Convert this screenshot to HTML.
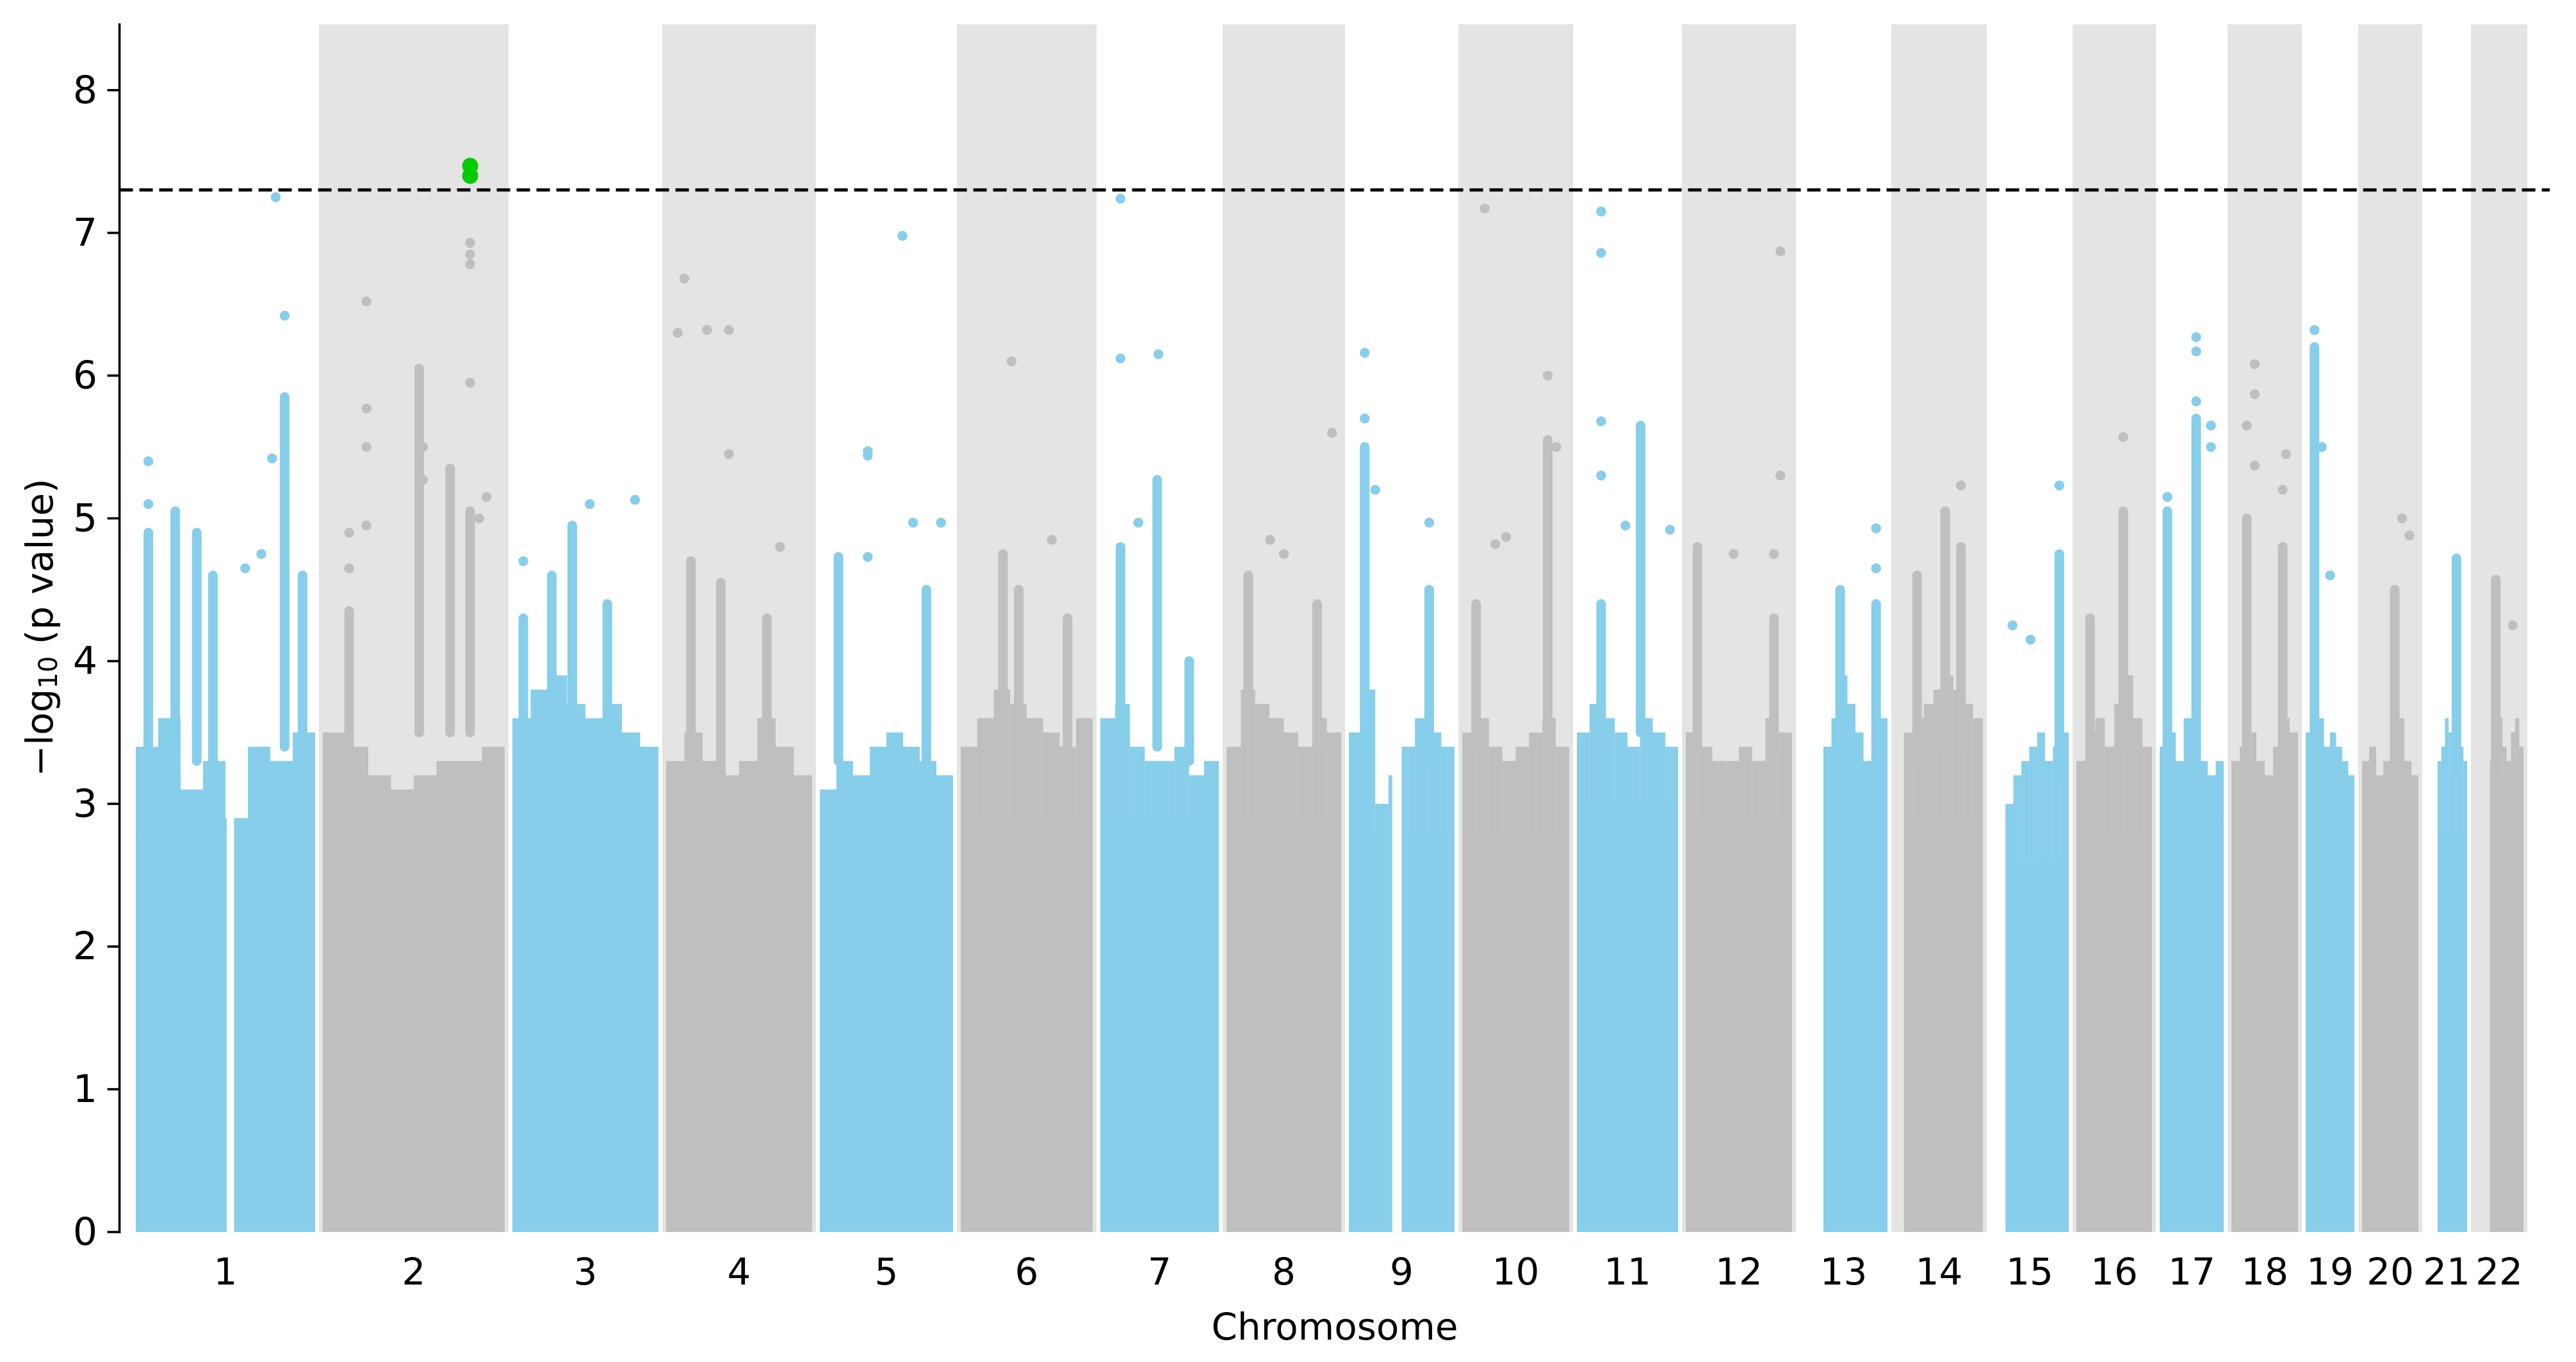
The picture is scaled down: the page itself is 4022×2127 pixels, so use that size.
<!DOCTYPE html>
<html><head><meta charset="utf-8"><style>
html,body{margin:0;padding:0;background:#fff;}
svg{display:block;font-family:"DejaVu Sans","Liberation Sans",sans-serif;}
</style></head>
<body>
<svg id="chart" width="4022" height="2127" viewBox="0 0 4022 2127" xmlns="http://www.w3.org/2000/svg">
<rect x="0" y="0" width="4022" height="2127" fill="#fff"/>
<g id="bands"></g>
<g id="marks"></g>
<g id="axes"></g>
</svg>
<script>
// ---- data ----
const chromosomes = ["1","2","3","4","5","6","7","8","9","10","11","12","13","14","15","16","17","18","19","20","21","22"];
const chromLengths = [292,296,240,240,220,218,197,191,177,179,170,178,149,149,134,130,112,116,88,100,76,88];
const chromStart = [0,0,0,0,0,0,0,0,0,0,0,0,0.27,0.1,0.19,0,0,0,0,0,0.28,0.31];
const denseTop = [2.8,2.9,3.0,2.75,2.8,2.9,2.9,2.9,2.8,2.8,3.0,2.9,2.8,2.9,2.6,2.8,2.9,2.8,3.0,2.7,2.8,2.7];
const fringe = [
 [3.4,3.6,3.1,3.3,2.9,3.4,3.3,3.5],
 [3.5,3.4,3.2,3.1,3.2,3.3,3.3,3.4],
 [3.6,3.8,3.9,3.7,3.6,3.7,3.5,3.4],
 [3.3,3.5,3.3,3.2,3.3,3.6,3.4,3.2],
 [3.1,3.3,3.2,3.4,3.5,3.4,3.3,3.2],
 [3.4,3.6,3.8,3.7,3.6,3.5,3.4,3.6],
 [3.6,3.7,3.4,3.3,3.3,3.4,3.2,3.3],
 [3.4,3.8,3.7,3.6,3.5,3.4,3.6,3.5],
 [3.5,3.8,3.0,3.2,3.4,3.6,3.5,3.4],
 [3.5,3.6,3.4,3.3,3.4,3.5,3.6,3.4],
 [3.5,3.7,3.6,3.5,3.4,3.6,3.5,3.4],
 [3.5,3.4,3.3,3.3,3.4,3.3,3.6,3.5],
 [3.4,3.6,3.9,3.7,3.5,3.3,3.5,3.6],
 [3.5,3.6,3.7,3.8,3.9,3.8,3.7,3.6],
 [3.0,3.2,3.3,3.4,3.5,3.3,3.4,3.5],
 [3.3,3.5,3.6,3.4,3.7,3.9,3.6,3.4],
 [3.4,3.5,3.3,3.6,3.4,3.3,3.2,3.3],
 [3.3,3.4,3.5,3.3,3.2,3.4,3.6,3.5],
 [3.5,3.8,3.6,3.4,3.5,3.4,3.3,3.2],
 [3.3,3.4,3.2,3.3,3.5,3.6,3.3,3.2],
 [3.3,3.4,3.6,3.5,3.3,3.2,3.4,3.3],
 [3.3,3.5,3.6,3.4,3.3,3.5,3.6,3.4]
];
const gaps = [[0,0.507,0.548],[8,0.41,0.5]];
const columns = [
 [0,0.07,3.2,4.9],[0,0.22,3.3,5.05],[0,0.34,3.3,4.9],[0,0.43,3.3,4.6],[0,0.83,3.4,5.85],[0,0.93,3.3,4.6],
 [1,0.145,3.3,4.35],[1,0.53,3.5,6.05],[1,0.70,3.5,5.35],[1,0.81,3.5,5.05],
 [2,0.075,3.5,4.3],[2,0.41,3.6,4.95],[2,0.27,3.5,4.6],[2,0.65,3.4,4.4],
 [3,0.17,3.2,4.7],[3,0.375,3.2,4.55],[3,0.69,3.2,4.3],
 [4,0.14,3.3,4.73],[4,0.8,3.3,4.5],
 [5,0.32,3.4,4.75],[5,0.44,3.4,4.5],[5,0.81,3.4,4.3],
 [6,0.17,3.4,4.8],[6,0.48,3.4,5.27],[6,0.75,3.3,4.0],
 [7,0.19,3.4,4.6],[7,0.79,3.4,4.4],
 [8,0.15,3.3,5.5],[8,0.76,3.3,4.5],
 [9,0.80,3.5,5.55],[9,0.13,3.4,4.4],
 [10,0.24,3.5,4.4],[10,0.63,3.5,5.65],
 [11,0.11,3.4,4.8],[11,0.83,3.4,4.3],
 [12,0.46,3.3,4.5],[12,0.87,3.3,4.4],
 [13,0.75,3.4,4.8],[13,0.57,3.4,5.05],[13,0.25,3.3,4.6],
 [14,0.88,3.2,4.75],
 [15,0.62,3.4,5.05],[15,0.18,3.3,4.3],
 [16,0.57,3.3,5.7],[16,0.12,3.3,5.05],
 [17,0.23,3.3,5.0],[17,0.77,3.3,4.8],
 [18,0.18,3.3,6.2],
 [19,0.58,3.2,4.5],
 [20,0.74,3.2,4.72],
 [21,0.43,3.2,4.57]
];
const points = [
 [0,0.07,5.4],[0,0.07,5.1],[0,0.61,4.65],[0,0.83,6.42],[0,0.78,7.25],[0,0.76,5.42],[0,0.70,4.75],
 [1,0.24,6.52],[1,0.24,5.77],[1,0.24,5.5],[1,0.24,4.95],[1,0.55,5.5],[1,0.55,5.27],[1,0.81,6.93],[1,0.81,6.85],[1,0.81,6.78],[1,0.81,5.95],[1,0.90,5.15],[1,0.86,5.0],[1,0.145,4.9],[1,0.145,4.65],
 [2,0.075,4.7],[2,0.53,5.1],[2,0.84,5.13],
 [3,0.125,6.68],[3,0.08,6.3],[3,0.28,6.32],[3,0.43,6.32],[3,0.43,5.45],[3,0.78,4.8],
 [4,0.62,6.98],[4,0.36,5.44],[4,0.36,5.47],[4,0.70,4.97],[4,0.91,4.97],[4,0.36,4.73],
 [5,0.385,6.1],[5,0.69,4.85],
 [6,0.17,7.24],[6,0.17,6.12],[6,0.49,6.15],[6,0.32,4.97],
 [7,0.92,5.6],[7,0.38,4.85],[7,0.5,4.75],
 [8,0.15,6.16],[8,0.15,5.7],[8,0.25,5.2],[8,0.76,4.97],
 [9,0.21,7.17],[9,0.80,6.0],[9,0.88,5.5],[9,0.41,4.87],[9,0.31,4.82],
 [10,0.24,7.15],[10,0.24,6.86],[10,0.24,5.68],[10,0.24,5.3],[10,0.48,4.95],[10,0.92,4.92],
 [11,0.89,6.87],[11,0.89,5.3],[11,0.45,4.75],[11,0.83,4.75],
 [12,0.87,4.93],[12,0.87,4.65],
 [13,0.75,5.23],
 [14,0.88,5.23],[14,0.28,4.25],[14,0.51,4.15],
 [15,0.62,5.57],
 [16,0.57,6.27],[16,0.57,6.17],[16,0.57,5.82],[16,0.80,5.65],[16,0.80,5.5],[16,0.12,5.15],
 [17,0.35,6.08],[17,0.35,5.87],[17,0.35,5.37],[17,0.23,5.65],[17,0.82,5.45],[17,0.77,5.2],
 [18,0.18,6.32],[18,0.33,5.5],[18,0.5,4.6],
 [19,0.71,5.0],[19,0.84,4.88],
 [21,0.78,4.25]
];
const hits = [[1,0.81,7.47],[1,0.81,7.40]];
const yTicks = [0,1,2,3,4,5,6,7,8];
const threshold = 7.30103;

// ---- scales ----
const NS = "http://www.w3.org/2000/svg";
const AX_L = 186.6, AX_R = 3981, Y0 = 1924, YTOP = 36.5;
const total = chromLengths.reduce((a,b)=>a+b,0);
const xDomMin = -19.4, xDomMax = total + 35;
function xScale(u){ return AX_L + (u - xDomMin) / (xDomMax - xDomMin) * (AX_R - AX_L); }
const yUnit = 222.9;
function yScale(v){ return Y0 - v * yUnit; }
const cum = [0];
chromLengths.forEach((l,i)=>cum.push(cum[i]+l));
const PAD = 6;
function chrX(i, frac){
  const a = xScale(cum[i]) + PAD, b = xScale(cum[i+1]) - PAD;
  return a + frac * (b - a);
}
const BLUE = "#87ceeb", GRAY = "#bfbfbf", BAND = "#e4e4e4";
function mk(tag, attrs, parent){
  const e = document.createElementNS(NS, tag);
  for (const k in attrs) e.setAttribute(k, attrs[k]);
  parent.appendChild(e);
  return e;
}
const bands = document.getElementById("bands");
const marks = document.getElementById("marks");
const axes = document.getElementById("axes");

chromosomes.forEach((c,i)=>{
  if (i % 2 === 1){
    const r = mk("rect", {x: xScale(cum[i]), y: 38, width: xScale(cum[i+1]) - xScale(cum[i]), height: Y0 - 38, fill: BAND}, bands);
    
    
  }
});

chromosomes.forEach((c,i)=>{
  const col = i % 2 === 0 ? BLUE : GRAY;
  const g = mk("g", {fill: col}, marks);
  
  
  const s = chromStart[i];
  let segs = [[s,1]];
  gaps.filter(gp=>gp[0]===i).forEach(gp=>{
    const ns=[]; segs.forEach(sg=>{
      if (gp[2]<=sg[0]||gp[1]>=sg[1]) ns.push(sg);
      else { if (gp[1]>sg[0]) ns.push([sg[0],gp[1]]); if (gp[2]<sg[1]) ns.push([gp[2],sg[1]]); }
    }); segs = ns;
  });
  const fr = fringe[i], n = fr.length;
  segs.forEach(sg=>{
    const x1 = chrX(i, sg[0]), x2 = chrX(i, sg[1]);
    const r = mk("rect", {x: x1, y: yScale(denseTop[i]), width: x2 - x1, height: Y0 - yScale(denseTop[i])}, g);
    
    
    for (let k = 0; k < n; k++){
      const f1 = s + (1 - s) * k / n, f2 = s + (1 - s) * (k + 1) / n;
      const a = Math.max(f1, sg[0]), b = Math.min(f2, sg[1]);
      if (b <= a) continue;
      const xa = chrX(i, a), xb = chrX(i, b);
      const top = yScale(fr[k]);
      const fe = mk("rect", {x: xa, y: top, width: xb - xa, height: yScale(denseTop[i]) - top + 1}, g);
      
      
    }
  });
});

columns.forEach(cl=>{
  const i = cl[0], x = chrX(i, cl[1]);
  const yTop = yScale(cl[3]), yLow = yScale(cl[2]);
  const r = mk("rect", {x: x - 7.5, y: yTop - 7.5, width: 15, height: yLow - yTop + 15, rx: 7.5, fill: i % 2 === 0 ? BLUE : GRAY}, marks);
  
  
});
points.forEach(p=>{
  const i = p[0];
  const c = mk("circle", {cx: chrX(i, p[1]), cy: yScale(p[2]), r: 7.7, fill: i % 2 === 0 ? BLUE : GRAY}, marks);
  
  
});
hits.forEach(p=>{
  const c = mk("circle", {cx: chrX(p[0], p[1]), cy: yScale(p[2]), r: 12.5, fill: "#00cc00"}, marks);
  
  
});

const th = mk("line", {x1: AX_L, x2: AX_R, y1: yScale(threshold), y2: yScale(threshold), stroke: "#000", "stroke-width": 5, "stroke-dasharray": "21 10"}, axes);



const sp = mk("line", {x1: AX_L, x2: AX_L, y1: YTOP, y2: Y0 + 2, stroke: "#000", "stroke-width": 3.6}, axes);


yTicks.forEach(v=>{
  const y = yScale(v);
  const t = mk("line", {x1: AX_L - 19, x2: AX_L, y1: y, y2: y, stroke: "#000", "stroke-width": 3.6}, axes);
  
  
  const tx = mk("text", {x: 152, y: y, "text-anchor": "end", "dominant-baseline": "central", "font-size": 60, fill: "#000"}, axes);
  tx.textContent = String(v);
  
  
});
chromosomes.forEach((c,i)=>{
  const tx = mk("text", {x: xScale((cum[i] + cum[i+1]) / 2), y: 1986, "text-anchor": "middle", "dominant-baseline": "central", "font-size": 58, fill: "#000"}, axes);
  tx.textContent = c;
  
  
});
</script>
<script>
(function(){
  const NS = "http://www.w3.org/2000/svg";
  const axes = document.getElementById("axes");
  const xl = document.createElementNS(NS, "text");
  xl.setAttribute("x", 2084); xl.setAttribute("y", 2072);
  xl.setAttribute("text-anchor", "middle"); xl.setAttribute("dominant-baseline", "central");
  xl.setAttribute("font-size", 58);
  xl.textContent = "Chromosome";
  
  
  axes.appendChild(xl);
  const yl = document.createElementNS(NS, "text");
  yl.setAttribute("transform", "translate(62,980) rotate(-90)");
  yl.setAttribute("text-anchor", "middle"); yl.setAttribute("dominant-baseline", "central");
  yl.setAttribute("font-size", 58);
  yl.innerHTML = '−log<tspan font-size="40" dy="14">10</tspan><tspan dy="-14"> (p value)</tspan>';
  
  
  axes.appendChild(yl);
})();
</script>
</body></html>
